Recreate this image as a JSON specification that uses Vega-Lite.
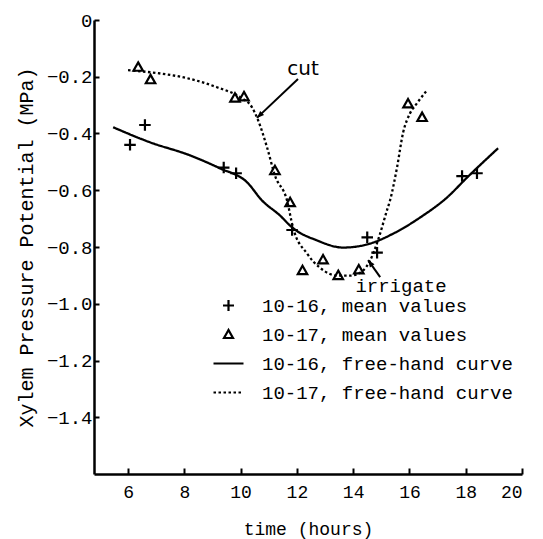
{
  "$schema": "https://vega.github.io/schema/vega-lite/v6.json",
  "width": 428,
  "height": 454,
  "autosize": {"type": "none"},
  "padding": {"left": 94, "top": 20, "right": 21, "bottom": 65},
  "background": "white",
  "config": {
    "view": {"stroke": null},
    "font": "Liberation Mono",
    "mark": {"color": "black"},
    "axis": {
      "grid": false,
      "domainColor": "black",
      "domainWidth": 2.5,
      "tickColor": "black",
      "tickWidth": 2,
      "labelColor": "black",
      "titleColor": "black",
      "labelFont": "Liberation Mono",
      "titleFont": "Liberation Mono",
      "titleFontWeight": "normal"
    }
  },
  "datasets": {
    "points": [
      {"series": "10-16, mean values", "t": 6.07, "psi": -0.44},
      {"series": "10-16, mean values", "t": 6.6, "psi": -0.37},
      {"series": "10-16, mean values", "t": 9.4, "psi": -0.52},
      {"series": "10-16, mean values", "t": 9.84, "psi": -0.54},
      {"series": "10-16, mean values", "t": 11.83, "psi": -0.74},
      {"series": "10-16, mean values", "t": 14.5, "psi": -0.766},
      {"series": "10-16, mean values", "t": 14.85, "psi": -0.82},
      {"series": "10-16, mean values", "t": 17.87, "psi": -0.55},
      {"series": "10-16, mean values", "t": 18.4, "psi": -0.54},
      {"series": "10-17, mean values", "t": 6.36, "psi": -0.166},
      {"series": "10-17, mean values", "t": 6.8, "psi": -0.21},
      {"series": "10-17, mean values", "t": 9.8, "psi": -0.275},
      {"series": "10-17, mean values", "t": 10.12, "psi": -0.27},
      {"series": "10-17, mean values", "t": 11.22, "psi": -0.53},
      {"series": "10-17, mean values", "t": 11.76, "psi": -0.643},
      {"series": "10-17, mean values", "t": 12.2, "psi": -0.883},
      {"series": "10-17, mean values", "t": 12.93, "psi": -0.845},
      {"series": "10-17, mean values", "t": 13.47, "psi": -0.9},
      {"series": "10-17, mean values", "t": 14.2, "psi": -0.88},
      {"series": "10-17, mean values", "t": 15.95, "psi": -0.295},
      {"series": "10-17, mean values", "t": 16.45, "psi": -0.343}
    ],
    "curves": [
      {"series": "10-16, free-hand curve", "t": 5.47, "psi": -0.378},
      {"series": "10-16, free-hand curve", "t": 6.78, "psi": -0.431},
      {"series": "10-16, free-hand curve", "t": 8.2, "psi": -0.477},
      {"series": "10-16, free-hand curve", "t": 9.27, "psi": -0.523},
      {"series": "10-16, free-hand curve", "t": 10.23, "psi": -0.572},
      {"series": "10-16, free-hand curve", "t": 10.76, "psi": -0.636},
      {"series": "10-16, free-hand curve", "t": 11.4, "psi": -0.689},
      {"series": "10-16, free-hand curve", "t": 11.83, "psi": -0.731},
      {"series": "10-16, free-hand curve", "t": 12.72, "psi": -0.777},
      {"series": "10-16, free-hand curve", "t": 13.64, "psi": -0.802},
      {"series": "10-16, free-hand curve", "t": 14.6, "psi": -0.788},
      {"series": "10-16, free-hand curve", "t": 15.42, "psi": -0.753},
      {"series": "10-16, free-hand curve", "t": 16.38, "psi": -0.696},
      {"series": "10-16, free-hand curve", "t": 17.34, "psi": -0.625},
      {"series": "10-16, free-hand curve", "t": 18.05, "psi": -0.555},
      {"series": "10-16, free-hand curve", "t": 19.15, "psi": -0.452},
      {"series": "10-17, free-hand curve", "t": 6.0, "psi": -0.177},
      {"series": "10-17, free-hand curve", "t": 7.03, "psi": -0.187},
      {"series": "10-17, free-hand curve", "t": 8.1, "psi": -0.205},
      {"series": "10-17, free-hand curve", "t": 9.16, "psi": -0.237},
      {"series": "10-17, free-hand curve", "t": 9.98, "psi": -0.272},
      {"series": "10-17, free-hand curve", "t": 10.4, "psi": -0.307},
      {"series": "10-17, free-hand curve", "t": 10.62, "psi": -0.353},
      {"series": "10-17, free-hand curve", "t": 10.94, "psi": -0.449},
      {"series": "10-17, free-hand curve", "t": 11.22, "psi": -0.548},
      {"series": "10-17, free-hand curve", "t": 11.65, "psi": -0.636},
      {"series": "10-17, free-hand curve", "t": 11.86, "psi": -0.731},
      {"series": "10-17, free-hand curve", "t": 12.36, "psi": -0.823},
      {"series": "10-17, free-hand curve", "t": 12.82, "psi": -0.873},
      {"series": "10-17, free-hand curve", "t": 13.46, "psi": -0.901},
      {"series": "10-17, free-hand curve", "t": 13.89, "psi": -0.901},
      {"series": "10-17, free-hand curve", "t": 14.35, "psi": -0.883},
      {"series": "10-17, free-hand curve", "t": 14.6, "psi": -0.848},
      {"series": "10-17, free-hand curve", "t": 14.88, "psi": -0.777},
      {"series": "10-17, free-hand curve", "t": 15.2, "psi": -0.671},
      {"series": "10-17, free-hand curve", "t": 15.31, "psi": -0.636},
      {"series": "10-17, free-hand curve", "t": 15.56, "psi": -0.519},
      {"series": "10-17, free-hand curve", "t": 15.77, "psi": -0.399},
      {"series": "10-17, free-hand curve", "t": 16.02, "psi": -0.329},
      {"series": "10-17, free-hand curve", "t": 16.27, "psi": -0.293},
      {"series": "10-17, free-hand curve", "t": 16.63, "psi": -0.247}
    ],
    "arrows": [
      {"name": "cut", "t": 12.04, "psi": -0.208, "t2": 10.58, "psi2": -0.345},
      {"name": "irrigate", "t": 14.96, "psi": -0.906, "t2": 14.53, "psi2": -0.846}
    ],
    "labels": [
      {"name": "cut", "t": 12.22, "psi": -0.173},
      {"name": "irrigate", "t": 15.7, "psi": -0.936}
    ]
  },
  "layer": [
    {
      "data": {"name": "curves"},
      "mark": {"type": "line", "interpolate": "monotone", "strokeWidth": 2.3, "color": "black"},
      "encoding": {
        "x": {
          "field": "t", "type": "quantitative",
          "scale": {"domain": [4.79, 20], "nice": false, "zero": false},
          "axis": {
            "title": "time (hours)",
            "values": [6, 8, 10, 12, 14, 16, 18, 20],
            "tickSize": -6,
            "labelPadding": 15,
            "labelFontSize": 18,
            "titleFontSize": 18,
            "titlePadding": 19
          }
        },
        "y": {
          "field": "psi", "type": "quantitative",
          "scale": {"domain": [-1.6, 0], "nice": false, "zero": false},
          "axis": {
            "title": "Xylem Pressure Potential (MPa)",
            "values": [0, -0.2, -0.4, -0.6, -0.8, -1.0, -1.2, -1.4],
            "labelExpr": "datum.value == 0 ? '0' : format(datum.value, '.1f')",
            "tickSize": -5,
            "labelPadding": 7,
            "labelFontSize": 19,
            "titleFontSize": 20,
            "titlePadding": 10
          }
        },
        "strokeDash": {
          "field": "series", "type": "nominal",
          "scale": {
            "domain": ["10-16, mean values", "10-17, mean values", "10-16, free-hand curve", "10-17, free-hand curve"],
            "range": [[1, 0], [1, 0], [1, 0], [2.5, 2.5]]
          },
          "legend": {
            "title": null, "orient": "none", "legendX": 125, "legendY": 276,
            "symbolSize": 100, "symbolStrokeWidth": 2.2, "symbolStrokeColor": "black",
            "symbolFillColor": "transparent", "labelFont": "Liberation Mono",
            "labelFontSize": 19, "labelColor": "black", "labelOffset": 24, "labelLimit": 400,
            "rowPadding": 9, "padding": 0, "symbolLimit": 0
          }
        }
      }
    },
    {
      "data": {"name": "points"},
      "mark": {"type": "point", "filled": false, "strokeWidth": 2.2, "size": 110, "color": "black", "opacity": 1},
      "encoding": {
        "x": {"field": "t", "type": "quantitative"},
        "y": {"field": "psi", "type": "quantitative"},
        "shape": {
          "field": "series", "type": "nominal",
          "scale": {
            "domain": ["10-16, mean values", "10-17, mean values", "10-16, free-hand curve", "10-17, free-hand curve"],
            "range": ["M-1.1,0H1.1M0,-1.1V1.1", "M0,-0.9L0.9,0.7H-0.9Z", "M-3,0H3", "M-3,0H3"]
          },
          "legend": {
            "title": null, "orient": "none", "legendX": 125, "legendY": 276,
            "symbolSize": 100, "symbolStrokeWidth": 2.2, "symbolStrokeColor": "black",
            "symbolFillColor": "transparent", "labelFont": "Liberation Mono",
            "labelFontSize": 19, "labelColor": "black", "labelOffset": 24, "labelLimit": 400,
            "rowPadding": 9, "padding": 0, "symbolLimit": 0
          }
        }
      }
    },
    {
      "data": {"name": "arrows"},
      "mark": {"type": "rule", "strokeWidth": 2, "color": "black"},
      "encoding": {
        "x": {"field": "t", "type": "quantitative"},
        "y": {"field": "psi", "type": "quantitative"},
        "x2": {"field": "t2"},
        "y2": {"field": "psi2"}
      }
    },
    {
      "data": {"name": "arrows"},
      "transform": [{"filter": "datum.name == 'cut'"}],
      "mark": {"type": "point", "shape": "M0,0L0.7,1.8L-0.7,1.8Z", "filled": true, "size": 64, "angle": 226, "color": "black", "opacity": 1},
      "encoding": {
        "x": {"field": "t2", "type": "quantitative"},
        "y": {"field": "psi2", "type": "quantitative"}
      }
    },
    {
      "data": {"name": "arrows"},
      "transform": [{"filter": "datum.name == 'irrigate'"}],
      "mark": {"type": "point", "shape": "M0,0L0.7,1.8L-0.7,1.8Z", "filled": true, "size": 64, "angle": 325, "color": "black", "opacity": 1},
      "encoding": {
        "x": {"field": "t2", "type": "quantitative"},
        "y": {"field": "psi2", "type": "quantitative"}
      }
    },
    {
      "data": {"name": "labels"},
      "transform": [{"filter": "datum.name == 'cut'"}],
      "mark": {"type": "text", "font": "DejaVu Sans", "fontSize": 20, "color": "black", "align": "center", "baseline": "middle"},
      "encoding": {
        "x": {"field": "t", "type": "quantitative"},
        "y": {"field": "psi", "type": "quantitative"},
        "text": {"field": "name"}
      }
    },
    {
      "data": {"name": "labels"},
      "transform": [{"filter": "datum.name == 'irrigate'"}],
      "mark": {"type": "text", "font": "Liberation Mono", "fontSize": 19, "color": "black", "align": "center", "baseline": "middle"},
      "encoding": {
        "x": {"field": "t", "type": "quantitative"},
        "y": {"field": "psi", "type": "quantitative"},
        "text": {"field": "name"}
      }
    }
  ]
}
